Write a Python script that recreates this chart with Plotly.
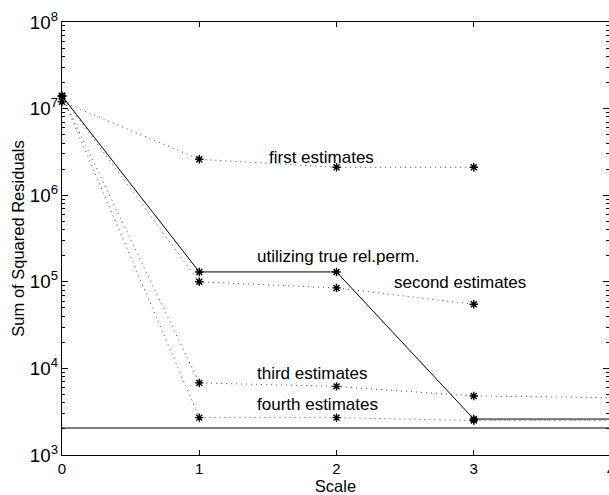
import plotly.graph_objects as go
import numpy as np

scales = [0, 1, 2, 3, 4]
first_est = [1.2e7, 2.6e6, 2.1e6, 2.1e6]
true_relperm = [1.4e7, 1.3e5, 1.3e5, 2.6e3, 2.6e3]
second_est = [1.4e7, 1.0e5, 8.5e4, 5.5e4]
third_est = [1.4e7, 6.8e3, 6.2e3, 4.8e3, 4.6e3]
fourth_est = [1.4e7, 2.7e3, 2.7e3, 2.5e3, 2.5e3]
reference_level = [2.05e3, 2.05e3]
reference_x = [0, 4]

labels = ["first estimates", "utilizing true rel.perm.", "second estimates",
          "third estimates", "fourth estimates"]
label_x = [1.49, 1.404, 2.406, 1.404, 1.404]
label_y = [2.75e6, 1.95e5, 9.8e4, 8.7e3, 3.85e3]

X_MAX = 3.985

fig = go.Figure()

def dotted(xs, ys):
    fig.add_trace(go.Scatter(
        x=xs, y=ys, mode="lines+markers", cliponaxis=False,
        line=dict(color="#444444", width=1, dash="1px,4px"),
        marker=dict(symbol="asterisk", size=7, line=dict(color="black", width=1.4)),
        showlegend=False))

dotted(scales[:4], first_est)
dotted(scales[:4], second_est)
dotted(scales, third_est)
dotted(scales, fourth_est)

fig.add_trace(go.Scatter(
    x=reference_x, y=reference_level, mode="lines",
    line=dict(color="black", width=1), showlegend=False))

fig.add_trace(go.Scatter(
    x=scales, y=true_relperm, mode="lines+markers",
    line=dict(color="black", width=1),
    marker=dict(symbol="asterisk", size=7, line=dict(color="black", width=1.4)),
    showlegend=False))

for t, xv, yv in zip(labels, label_x, label_y):
    fig.add_annotation(x=xv, y=np.log10(yv), text=t, showarrow=False,
                       xanchor="left", yanchor="middle",
                       font=dict(size=17, color="black"))

# tick label for x = 4, which sits at the clipped right edge
fig.add_annotation(x=scales[4] / X_MAX, y=0, xref="paper", yref="paper", text=str(scales[4]),
                   showarrow=False, xanchor="center", yanchor="top", yshift=-4,
                   font=dict(size=15, color="black"))

fig.update_xaxes(
    range=[0, X_MAX], tickvals=scales[:4], ticktext=[str(s) for s in scales[:4]],
    ticks="inside", ticklen=5, tickcolor="black",
    showline=True, linecolor="black", linewidth=1, mirror="ticks",
    showgrid=False, zeroline=False, automargin=False,
    title=dict(text="Scale", standoff=0, font=dict(size=16.5, color="black")),
    tickfont=dict(size=15, color="black"))

fig.update_yaxes(
    type="log", range=[3, 8], dtick=1, exponentformat="power", showexponent="all",
    ticks="inside", ticklen=6, tickcolor="black",
    minor=dict(ticks="inside", ticklen=3, tickcolor="black", dtick="D1", showgrid=False),
    showline=True, linecolor="black", linewidth=1, mirror="ticks",
    showgrid=False, zeroline=False, automargin=False,
    title=dict(text="Sum of Squared Residuals", standoff=1, font=dict(size=16.5, color="black")),
    tickfont=dict(size=15, color="black"))

fig.update_layout(
    width=609, height=495,
    margin=dict(l=62, r=0, t=22, b=40),
    plot_bgcolor="white", paper_bgcolor="white",
    font=dict(family="Liberation Sans, Arial, sans-serif", size=14, color="black"))

fig.write_html("out.html", config={"displayModeBar": False},
               post_script="document.body.style.margin='0';document.body.style.overflow='hidden';")
